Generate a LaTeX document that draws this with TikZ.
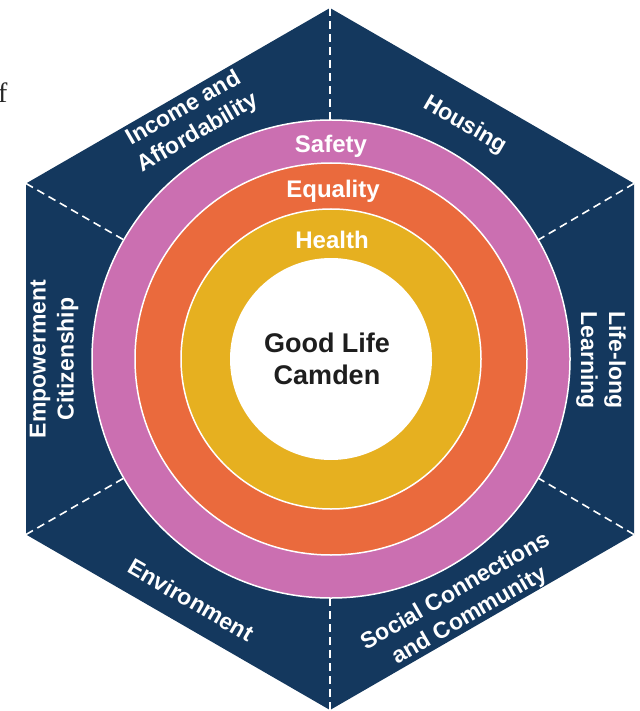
\documentclass[tikz,border=0pt]{standalone}
\usepackage{fontspec}
\setmainfont{Liberation Sans}
\newfontfamily\fragfont{Liberation Serif}
\definecolor{navy}{RGB}{20,56,94}
\definecolor{ringpink}{RGB}{203,111,177}
\definecolor{ringorange}{RGB}{234,106,61}
\definecolor{ringyellow}{RGB}{230,176,32}
\definecolor{centretext}{RGB}{30,30,30}
\tikzset{
  ringedge/.style={draw=white, line width=1.5pt},
  divider/.style={draw=white, line width=1.6pt, dash pattern=on 8pt off 5pt},
  sectorlabel/.style={text=white, font=\bfseries\fontsize{23}{28}\selectfont, align=center, inner sep=0pt},
  ringlabel/.style={text=white, font=\bfseries\fontsize{24}{28}\selectfont, inner sep=0pt, anchor=base},
  centrelabel/.style={text=centretext, font=\bfseries\fontsize{27}{32}\selectfont, inner sep=0pt, anchor=base}
}
\begin{document}
\begin{tikzpicture}[x=1pt,y=-1pt]
\useasboundingbox (0,0) rectangle (639,711);
% hexagon vertices
\coordinate (C) at (331,359);
\coordinate (vT) at (330,8);
\coordinate (vUL) at (26,183.5);
\coordinate (vLL) at (26,534.5);
\coordinate (vB) at (330,710);
\coordinate (vLR) at (634,534.5);
\coordinate (vUR) at (634,183.5);
\fill[navy] (vT) -- (vUL) -- (vLL) -- (vB) -- (vLR) -- (vUR) -- cycle;
% points where dividers meet the outer ring
\coordinate (pT) at (330,120);
\coordinate (pUL) at (124,240);
\coordinate (pLL) at (124,478);
\coordinate (pB) at (330,598);
\coordinate (pLR) at (538,478);
\coordinate (pUR) at (538,240);
\foreach \v in {T,UL,LL,B,LR,UR} \draw[divider] (v\v) -- (p\v);
% rings
\fill[ringpink] (C) circle (239);
\draw[ringedge] (C) circle (239);
\fill[ringorange] (C) circle (196);
\draw[ringedge] (C) circle (196);
\fill[ringyellow] (C) circle (150);
\draw[ringedge] (C) circle (150);
\fill[white] (C) circle (101);
% ring labels
\node[ringlabel] (safety) at (331,153) {Safety};
\node[ringlabel] (equality) at (333,197) {Equality};
\node[ringlabel] (health) at (332,248) {Health};
\node[centrelabel] (good) at (327,352) {Good Life};
\node[centrelabel] (camden) at (327,384) {Camden};
% sector labels
\node[sectorlabel, rotate=30] (income) at (191,121) {Income and\\Affordability};
\node[sectorlabel, rotate=-30] (housing) at (465,125) {Housing};
\node[sectorlabel, rotate=90] (empower) at (54,359) {Empowerment\\Citizenship};
\node[sectorlabel, rotate=-90] (lifelong) at (601,360) {Life-long\\Learning};
\node[sectorlabel, rotate=-30] (environment) at (191,600) {Environment};
\node[sectorlabel, rotate=30] (social) at (463,604) {Social Connections\\and Community};
% text fragment at the left edge
\node[anchor=base west, inner sep=0pt, text=black!85, font=\fragfont\fontsize{28}{30}\selectfont] (frag) at (-2,103) {f};
\end{tikzpicture}
\end{document}
